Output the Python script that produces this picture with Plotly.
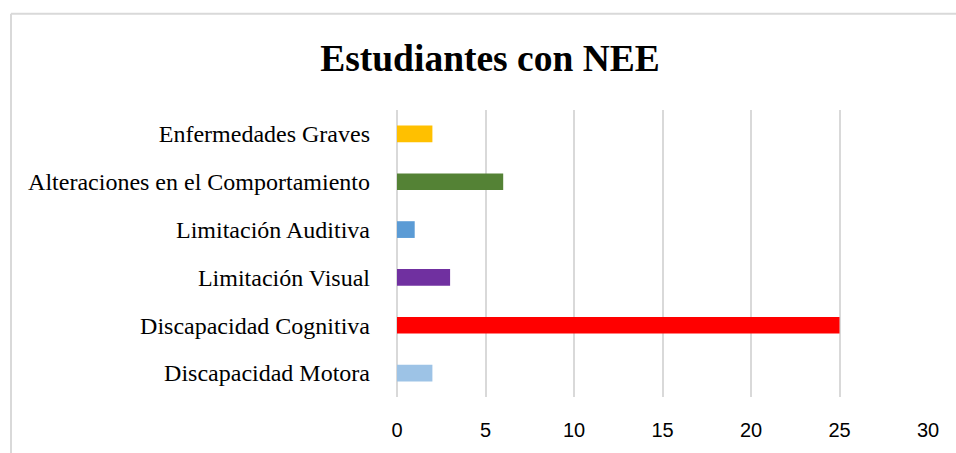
import plotly.graph_objects as go

categories = ["Discapacidad Motora", "Discapacidad Cognitiva", "Limitación Visual",
              "Limitación Auditiva", "Alteraciones en el Comportamiento", "Enfermedades Graves"]
values = [2, 25, 3, 1, 6, 2]
colors = ["#9DC3E6", "#FF0000", "#7030A0", "#5B9BD5", "#548235", "#FFC000"]
x_ticks = [0, 5, 10, 15, 20, 25, 30]

W, H = 956, 453
L, R, T, B = 397, 28, 110, 54
pw, ph = W - L - R, H - T - B

def px_x(p):
    return (p - L) / pw

def px_y(p):
    return 1 - (p - T) / ph

fig = go.Figure(go.Bar(
    y=categories, x=values, orientation="h",
    marker=dict(color=colors, line=dict(width=0)),
    width=0.35,
))

grid = "#D9D9D9"
fig.update_layout(
    width=W, height=H,
    margin=dict(l=L, r=R, t=T, b=B),
    paper_bgcolor="white", plot_bgcolor="white",
    showlegend=False,
    title=dict(text="<b>Estudiantes con NEE</b>", x=490 / W, xanchor="center",
               y=1 - 58 / H, yanchor="middle", yref="container",
               font=dict(family="Liberation Serif", size=37.5, color="black")),
    xaxis=dict(range=[0, 30], tickvals=x_ticks, showgrid=True, gridcolor=grid, gridwidth=1.5,
               zeroline=True, zerolinecolor=grid, zerolinewidth=1.5, showline=False,
               tickfont=dict(family="Liberation Sans", size=20, color="black"),
               ticklabelstandoff=19, fixedrange=True),
    yaxis=dict(showgrid=False, zeroline=False, showline=False,
               tickfont=dict(family="Liberation Serif", size=24, color="black"),
               ticklabelstandoff=26, range=[-0.5, 5.5], fixedrange=True),
    shapes=[
        dict(type="line", xref="paper", yref="paper", x0=px_x(11), x1=px_x(990),
             y0=px_y(13), y1=px_y(13), line=dict(color=grid, width=2)),
        dict(type="line", xref="paper", yref="paper", x0=px_x(11), x1=px_x(11),
             y0=px_y(13), y1=px_y(470), line=dict(color=grid, width=2)),
    ],
)

fig.write_html("out.html", config={"displayModeBar": False},
               post_script="document.body.style.margin='0';document.body.style.padding='0';")
